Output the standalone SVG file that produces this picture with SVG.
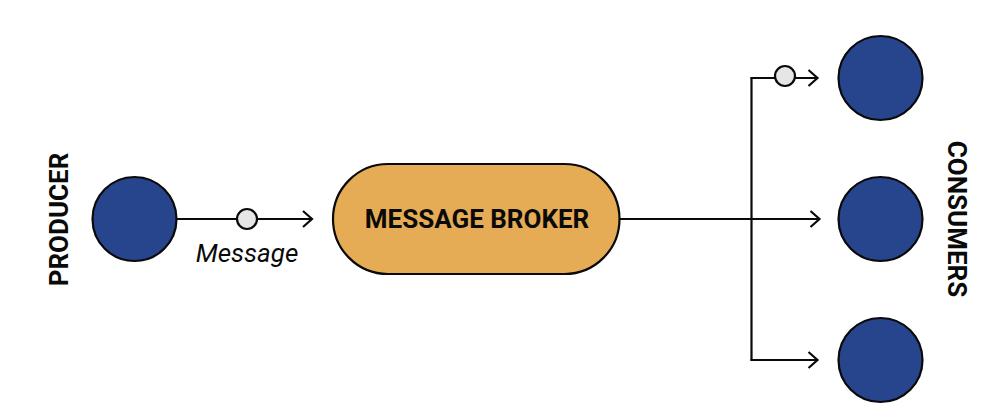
<svg xmlns="http://www.w3.org/2000/svg" width="1000" height="420" viewBox="0 0 1000 420">
<defs>
<style>
.node{fill:#27458d;stroke:#0a0a0a;stroke-width:2.200}
.dot{fill:#e6e6e6;stroke:#0a0a0a;stroke-width:2.200}
.line{fill:none;stroke:#0a0a0a;stroke-width:2.200}
.lab{font-family:Roboto,"Liberation Sans",sans-serif;font-weight:700;fill:#0a0a0a;font-size:26px}
</style>
<marker id="arrow" markerUnits="userSpaceOnUse" markerWidth="14" markerHeight="20" refX="11" refY="10" orient="auto">
<path d="M2 2L11 10L2 18" fill="none" stroke="#0a0a0a" stroke-width="2.200"/>
</marker>
</defs>
<rect width="1000" height="420" fill="#fff"/>
<g id="connectors">
<path class="line" d="M177 219H312" marker-end="url(#arrow)"/>
<path class="line" d="M620 219H819.500" marker-end="url(#arrow)"/>
<path class="line" d="M751.500 78V360.500"/>
<path class="line" d="M750.400 78H817.500" marker-end="url(#arrow)"/>
<path class="line" d="M750.400 360H817.500" marker-end="url(#arrow)"/>
</g>
<g id="producer"><circle class="node" cx="134.500" cy="219" r="42"/>
<text class="lab" transform="translate(68 219.500) rotate(-90)" text-anchor="middle">PRODUCER</text></g>
<g id="message"><circle class="dot" cx="247" cy="219" r="10"/>
<text x="247" y="262" font-family="Roboto,'Liberation Sans',sans-serif" font-style="italic" font-size="26" fill="#0a0a0a" text-anchor="middle">Message</text></g>
<g id="broker"><rect x="333" y="164" width="286.500" height="110" rx="55" fill="#e6ac55" stroke="#0a0a0a" stroke-width="2.200"/>
<text class="lab" x="477" y="228" text-anchor="middle">MESSAGE BROKER</text></g>
<g id="dot2"><circle class="dot" cx="785" cy="76" r="10"/></g>
<g id="consumer1"><circle class="node" cx="880.500" cy="78" r="42"/></g>
<g id="consumer2"><circle class="node" cx="880.500" cy="219" r="42"/></g>
<g id="consumer3"><circle class="node" cx="880.500" cy="360" r="42"/></g>
<g id="consumers"><text class="lab" transform="translate(948 219) rotate(90)" text-anchor="middle">CONSUMERS</text></g>
</svg>
